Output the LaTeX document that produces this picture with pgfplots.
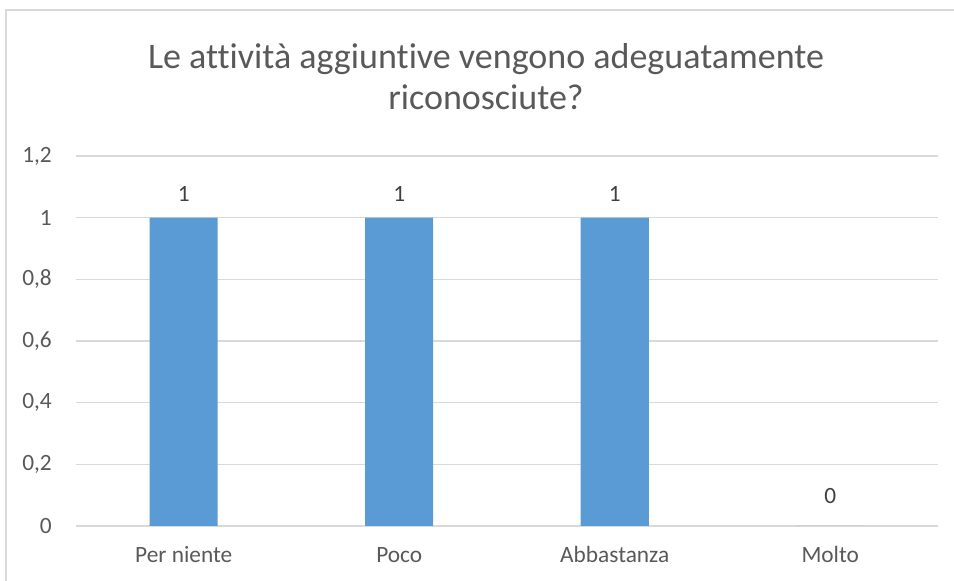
\documentclass[border=0pt]{standalone}
\usepackage{fontspec}
\setmainfont{Carlito}[Ligatures=NoCommon]
\usepackage{pgfplots}
\pgfplotsset{compat=1.18}
\definecolor{barblue}{HTML}{5B9BD5}
\definecolor{gridgray}{HTML}{D9D9D9}
\definecolor{textgray}{HTML}{595959}
\definecolor{labelgray}{HTML}{404040}

\begin{document}
\begin{tikzpicture}
\begin{axis}[
    scale only axis,
    width=646.5pt, height=277.5pt,
    xmin=-0.5, xmax=3.5,
    ymin=0, ymax=1.2,
    xtick={0,1,2,3},
    xticklabels={Per niente,Poco,Abbastanza,Molto},
    ytick={0,0.2,0.4,0.6,0.8,1,1.2},
    ymajorgrids,
    grid style={gridgray, line width=1.2pt},
    axis line style={draw=none},
    major tick length=0pt,
    /pgf/number format/use comma,
    /pgf/number format/fixed,
    /pgf/number format/precision=1,
    /pgf/number format/assume math mode=true,
    tick label style={font=\fontsize{17.5}{20}\selectfont, text=textgray},
    yticklabel style={anchor=east, inner sep=0pt, xshift=-18pt},
    xticklabel style={anchor=base, inner sep=0pt, yshift=-27.75pt},
    ybar, bar width=51pt, bar shift=0pt,
    nodes near coords,
    visualization depends on=y \as \ry,
    every node near coord/.append style={font=\fontsize{17.5}{20}\selectfont,
        text=labelgray, anchor=base, inner sep=0pt, yshift={12.4pt+(1-\ry)*4.5pt}},
]
\addplot[fill=barblue, draw=none] coordinates {(0,1) (1,1) (2,1) (3,0)};
\coordinate (sw) at (rel axis cs:0,0);
\end{axis}
\node[align=center, font=\fontsize{27}{30.75}\selectfont, text=textgray]
    at ([shift={(307.5pt,336.75pt)}]sw)
    {Le attività aggiuntive vengono adeguatamente\\riconosciute?};
\draw[gridgray, line width=1.2pt] ([shift={(-52.5pt,-45pt)}]sw) -- ([shift={(-52.5pt,387pt)}]sw) -- ([shift={(662pt,387pt)}]sw);
\pgfresetboundingbox
\useasboundingbox ([shift={(-57pt,-41.25pt)}]sw) rectangle ([shift={(658.5pt,394.5pt)}]sw);
\end{tikzpicture}
\end{document}
